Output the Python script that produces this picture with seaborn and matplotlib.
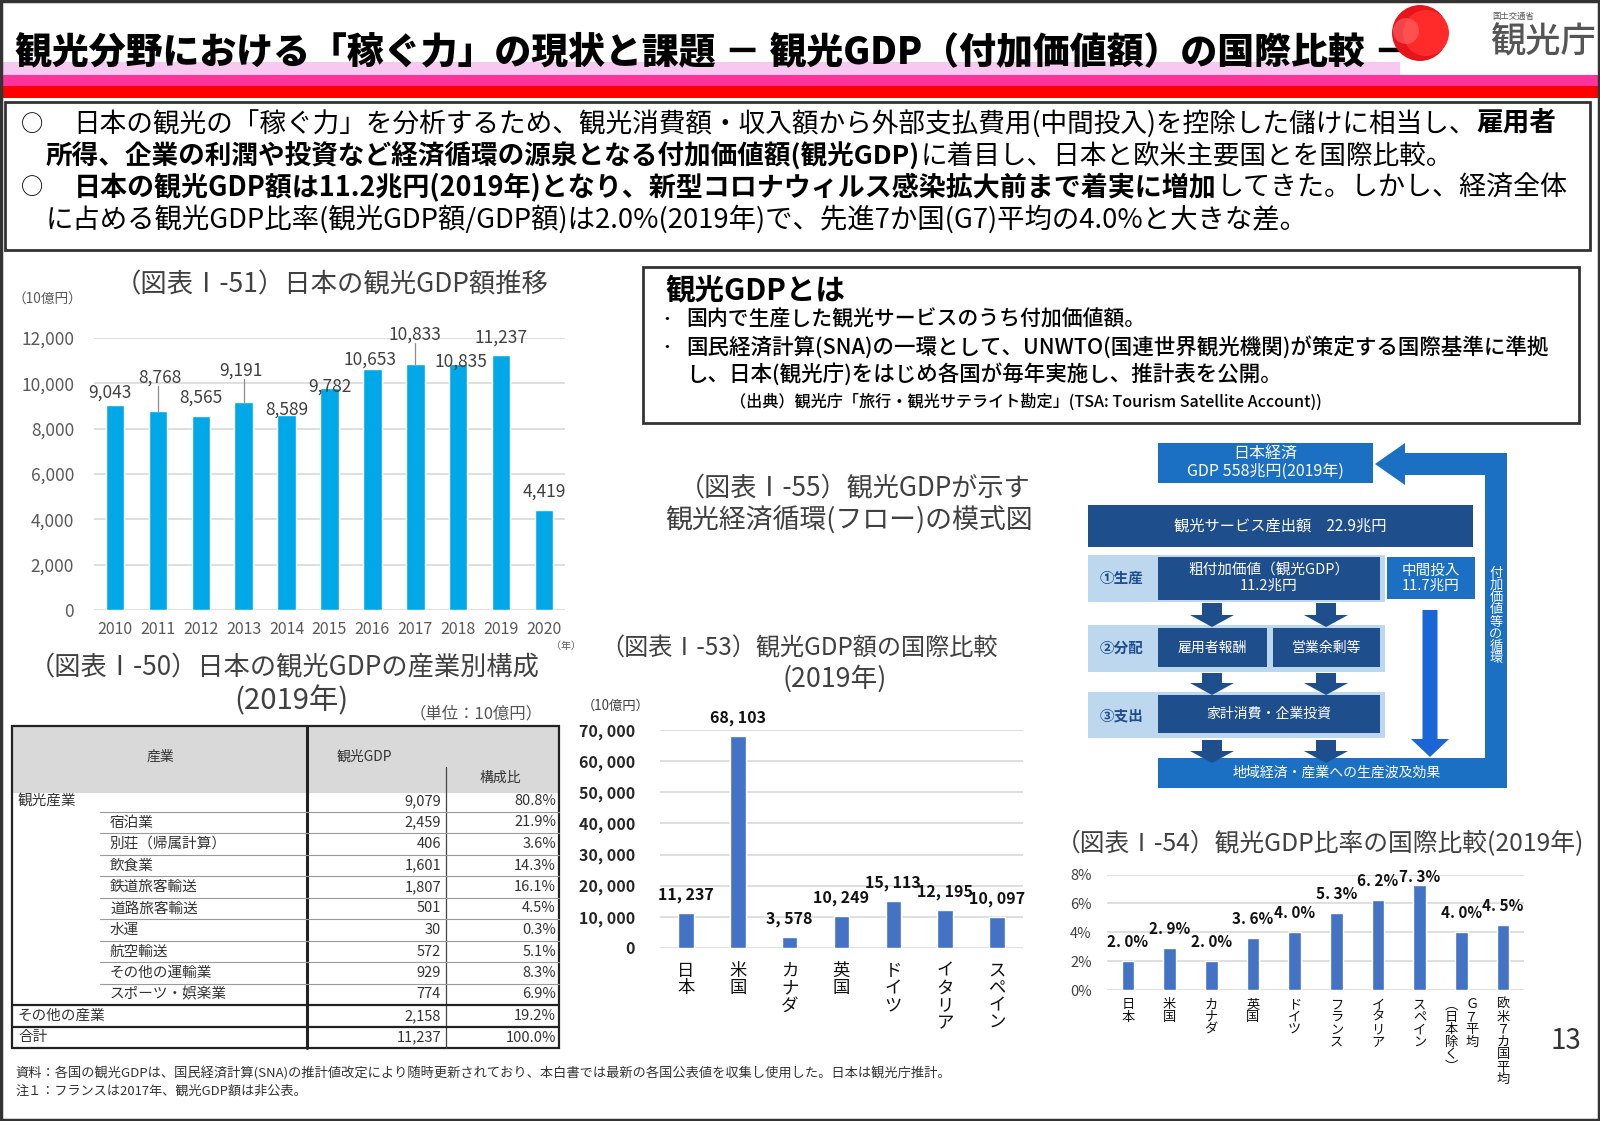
import numpy as np
import pandas as pd
import matplotlib
matplotlib.use("Agg")
import matplotlib.pyplot as plt
from matplotlib.patches import Rectangle, Polygon, Circle
import seaborn as sns

# ---- data ----
years = ["2010", "2011", "2012", "2013", "2014", "2015", "2016", "2017", "2018", "2019", "2020"]
jp_gdp = [9043, 8768, 8565, 9191, 8589, 9782, 10653, 10833, 10835, 11237, 4419]

intl_countries = ["日本", "米国", "カナダ", "英国", "ドイツ", "イタリア", "スペイン"]
intl_gdp = [11237, 68103, 3578, 10249, 15113, 12195, 10097]

ratio_countries = ["日本", "米国", "カナダ", "英国", "ドイツ", "フランス", "イタリア", "スペイン",
                   "Ｇ７平均（日本除く）", "欧米７カ国平均"]
ratio_values = [2.0, 2.9, 2.0, 3.6, 4.0, 5.3, 6.2, 7.3, 4.0, 4.5]

table_industry = ["観光産業", "宿泊業", "別荘（帰属計算）", "飲食業", "鉄道旅客輸送", "道路旅客輸送",
                  "水運", "航空輸送", "その他の運輸業", "スポーツ・娯楽業", "その他の産業", "合計"]
table_gdp = [9079, 2459, 406, 1601, 1807, 501, 30, 572, 929, 774, 2158, 11237]
table_share = [80.8, 21.9, 3.6, 14.3, 16.1, 4.5, 0.3, 5.1, 8.3, 6.9, 19.2, 100.0]

# label placement for the 51 chart (category offset, value offset)
lab_dx = [-0.12, 0.05, 0.0, -0.07, 0.0, 0.0, -0.05, 0.0, 0.07, 0.0, 0.0]
lab_dy = [530, 1485, 790, 1380, 230, 70, 410, 1310, 140, 775, 795]
leaders = [1, 3, 7]

sns.set_theme(style="white")
plt.rcParams["font.family"] = ["Noto Sans CJK JP", "DejaVu Sans"]

W, H = 1600, 1121
fig = plt.figure(figsize=(16, 11.21), dpi=100)
fig.patch.set_facecolor("white")
bg = fig.add_axes([0, 0, 1, 1])
bg.set_xlim(0, W)
bg.set_ylim(H, 0)
bg.axis("off")
renderer = fig.canvas.get_renderer()


def put(x, y, segs, size, width=None, ha="left", color="#000000", **kw):
    """Draw a line of (text, weight) pieces, optionally scaled to a pixel width."""
    if isinstance(segs, str):
        segs = [(segs, "normal")]

    def build(sz):
        objs, cx = [], 0.0
        for s, w in segs:
            t = bg.text(x + cx, y, s, fontsize=sz, fontweight=w, color=color,
                        va="center", ha="left", **kw)
            cx += t.get_window_extent(renderer).width
            objs.append(t)
        return objs, cx

    objs, tw = build(size)
    if width is not None:
        for o in objs:
            o.remove()
        size = size * width / tw
        objs, tw = build(size)
    shift = {"left": 0, "center": tw / 2, "right": tw}[ha]
    for o in objs:
        ox, oy = o.get_position()
        o.set_position((ox - shift, oy))
    return size


def rect(x0, y0, x1, y1, fc="none", ec="none", lw=0, z=1):
    bg.add_patch(Rectangle((x0, y0), x1 - x0, y1 - y0, facecolor=fc, edgecolor=ec,
                           linewidth=lw, zorder=z))


def down_arrow(cx, y0, y1, shaft, head, head_len, fc):
    pts = [(cx - shaft / 2, y0), (cx + shaft / 2, y0), (cx + shaft / 2, y1 - head_len),
           (cx + head / 2, y1 - head_len), (cx, y1), (cx - head / 2, y1 - head_len),
           (cx - shaft / 2, y1 - head_len)]
    bg.add_patch(Polygon(pts, closed=True, facecolor=fc, edgecolor="none", zorder=3))


def panel(x0, y0, x1, y1):
    ax = fig.add_axes([x0 / W, 1 - y1 / H, (x1 - x0) / W, (y1 - y0) / H])
    ax.set_facecolor("none")
    return ax


def style(ax, ymax, step, fmt, pad, fs, color="#595959", weight="normal"):
    ax.set_ylim(0, ymax)
    ticks = np.arange(0, ymax + step / 2, step)
    ax.set_yticks(ticks)
    ax.set_yticklabels([fmt(v) for v in ticks], fontsize=fs, color=color, fontweight=weight)
    ax.grid(axis="y", color="#d9d9d9", lw=1.2)
    ax.grid(axis="x", visible=False)
    ax.set_axisbelow(True)
    for s in ax.spines.values():
        s.set_visible(False)
    ax.tick_params(length=0, axis="y", pad=pad)
    ax.set_xlabel("")
    ax.set_ylabel("")


# ---- frame, header ----
rect(1, 1, W - 1, H - 1, ec="#333333", lw=2.5, z=10)
rect(0, 62, 1400, 75, fc="#f7c9f0", z=0)
rect(0, 75, W, 86, fc="#ff3399", z=0)
rect(0, 86, W, 98, fc="#ff0000", z=0)
put(15, 53, [("観光分野における「稼ぐ力」の現状と課題 － 観光GDP（付加価値額）の国際比較 －", "heavy")],
    24, width=1398)
bg.add_patch(Circle((1420, 33), 28, facecolor="#e8141c", edgecolor="none", zorder=5))
bg.add_patch(Circle((1426, 33), 23, facecolor="#ff2a2a", edgecolor="none", zorder=5))
bg.add_patch(Circle((1406, 31), 13, facecolor="#ff8080", edgecolor="none", zorder=5, alpha=0.45))
put(1492, 16, "国土交通省", 7, width=42, color="#555555")
put(1490, 42, [("観光庁", "medium")], 24, width=106, color="#555555")

# ---- summary box ----
rect(5, 102, 1590, 250, ec="#333333", lw=2, z=2)
put(32, 124.5, "○", 16, ha="center")
put(32, 188, "○", 16, ha="center")
put(73.5, 124.5, [("日本の観光の「稼ぐ力」を分析するため、観光消費額・収入額から外部支払費用(中間投入)を控除した儲けに相当し、", "normal"),
                  ("雇用者", "bold")], 16, width=1485)
put(46, 156, [("所得、企業の利潤や投資など経済循環の源泉となる付加価値額(観光GDP)", "bold"),
              ("に着目し、日本と欧米主要国とを国際比較。", "normal")], 16, width=1408)
put(73.5, 188, [("日本の観光GDP額は11.2兆円(2019年)となり、新型コロナウィルス感染拡大前まで着実に増加", "bold"),
                ("してきた。しかし、経済全体", "normal")], 16, width=1497)
put(46, 219.5, "に占める観光GDP比率(観光GDP額/GDP額)は2.0%(2019年)で、先進7か国(G7)平均の4.0%と大きな差。",
    16, width=1265)

# ---- 51: Japan tourism GDP trend ----
put(115, 285, "（図表Ⅰ-51）日本の観光GDP額推移", 18, width=434, color="#404040")
put(13, 300, "（10億円）", 9, width=70, color="#595959")
put(551, 646, "（年）", 10, width=30, color="#595959")
ax1 = panel(93.5, 338, 565.5, 610)
sns.barplot(x=years, y=jp_gdp, color="#00a8e8", width=0.43, saturation=1, ax=ax1)
style(ax1, 12000, 2000, lambda v: f"{int(v):,}", 14, 12.5)
ax1.set_xlim(-0.5, len(years) - 0.5)
ax1.tick_params(axis="x", length=0, pad=8, labelsize=11.5, labelcolor="#595959")
for i, v in enumerate(jp_gdp):
    ax1.text(i + lab_dx[i], v + lab_dy[i], f"{v:,}", ha="center", va="center",
             fontsize=12.5, color="#404040", clip_on=False, zorder=4)
for i in leaders:
    ax1.plot([i, i], [jp_gdp[i], jp_gdp[i] + lab_dy[i] - 380], color="#8c8c8c",
             lw=0.9, clip_on=False, zorder=4)

# ---- 50: industry table ----
put(29, 668, "（図表Ⅰ-50）日本の観光GDPの産業別構成", 18, width=510, color="#404040")
put(291, 701, "(2019年)", 18, width=114, ha="center", color="#404040")
put(410, 714, "（単位：10億円）", 8, width=133, color="#555555")
tx0, tx1, ty0, ty1 = 12, 559, 725.5, 1048
rect(tx0, ty0, tx1, 793, fc="#d9d9d9", z=1)
rect(tx0, ty0, tx1, ty1, ec="#222222", lw=1.6, z=3)
bg.plot([307, 307], [ty0, ty1], color="#222222", lw=2.2, zorder=3)
bg.plot([446, 446], [767, ty1], color="#444444", lw=0.9, zorder=3)
put(160, 757, "産業", 10, ha="center", color="#333333")
put(337, 757, "観光GDP", 10, color="#333333")
put(500, 777.5, "構成比", 10, ha="center", color="#333333")
row_y = [801 + 21.5 * k for k in range(len(table_industry))]
for k, name in enumerate(table_industry):
    y = row_y[k]
    indent = 0 < k < 10
    put(110 if indent else 18, y, name, 10.5, color="#333333")
    put(441, y, f"{table_gdp[k]:,}", 10.5, ha="right", color="#333333")
    put(556, y, f"{table_share[k]:.1f}%", 10.5, ha="right", color="#333333")
    if k < 9:
        bg.plot([100, tx1], [y + 10.75, y + 10.75], color="#9a9a9a", lw=0.8, zorder=3)
for yl in (row_y[10] - 10.75, row_y[11] - 10.75):
    bg.plot([tx0, tx1], [yl, yl], color="#222222", lw=1.6, zorder=3)

# ---- "観光GDPとは" box ----
rect(643, 267, 1579, 423, ec="#333333", lw=2, z=2)
put(665, 290, [("観光GDPとは", "bold")], 20, width=180)
put(667, 320, "・", 12, ha="center")
put(667, 347, "・", 12, ha="center")
put(686, 320, [("国内で生産した観光サービスのうち付加価値額。", "medium")], 13, width=457)
bsz = put(686, 347, [("国民経済計算(SNA)の一環として、UNWTO(国連世界観光機関)が策定する国際基準に準拠", "medium")],
          13, width=860)
put(686, 374, [("し、日本(観光庁)をはじめ各国が毎年実施し、推計表を公開。", "medium")], bsz)
put(730, 402, [("（出典）観光庁「旅行・観光サテライト勘定」(TSA: Tourism Satellite Account))", "medium")],
    10, width=594)

# ---- 55: flow diagram ----
put(679, 488, "（図表Ⅰ-55）観光GDPが示す", 18, width=352, color="#404040")
put(665, 520, "観光経済循環(フロー)の模式図", 18, width=368, color="#404040")
navy, mid, light, bright = "#1f4e8d", "#1b70c4", "#bdd7ee", "#1a66d6"
rect(1158, 443, 1373, 483, fc=mid)
bg.add_patch(Polygon([(1375, 464), (1405, 443), (1405, 485)], closed=True, facecolor=mid,
                     edgecolor="none", zorder=2))
rect(1404, 453, 1507, 475, fc=mid)
rect(1485, 453, 1507, 788, fc=mid)
rect(1158, 758, 1507, 788, fc=mid)
rect(1088, 505, 1473, 547, fc=navy)
for ry0, ry1 in ((555, 602), (625, 672), (692, 738)):
    rect(1088, ry0, 1385, ry1, fc=light)
rect(1158, 557, 1380, 600, fc=navy, z=2)
rect(1387, 557, 1475, 599, fc=mid, z=2)
rect(1158, 628, 1267, 667, fc=navy, z=2)
rect(1273, 628, 1380, 667, fc=navy, z=2)
rect(1158, 695, 1380, 733, fc=navy, z=2)
for ay0, ay1 in ((603, 627), (673, 695), (740, 763)):
    for cx in (1212, 1326):
        down_arrow(cx, ay0, ay1, 20, 44, 12, navy)
down_arrow(1430, 610, 757, 15, 38, 18, bright)
bg.text(1265, 463, "日本経済\nGDP 558兆円(2019年)", fontsize=11.5, color="white", ha="center",
        va="center", linespacing=1.05, zorder=6)
put(1280, 526, "観光サービス産出額　22.9兆円", 11, width=212, ha="center", color="white")
bg.text(1269, 578, "粗付加価値（観光GDP）\n11.2兆円", fontsize=10.5, color="white", ha="center",
        va="center", linespacing=1.05, zorder=6)
bg.text(1431, 578, "中間投入\n11.7兆円", fontsize=10.5, color="white", ha="center",
        va="center", linespacing=1.05, zorder=6)
for lab, yy in (("①生産", 578), ("②分配", 648), ("③支出", 715)):
    put(1122, yy, [(lab, "bold")], 10.5, ha="center", color=navy)
put(1212, 648, "雇用者報酬", 10, ha="center", color="white")
put(1326, 648, "営業余剰等", 10, ha="center", color="white")
put(1269, 714, "家計消費・企業投資", 10, ha="center", color="white")
put(1337, 773, "地域経済・産業への生産波及効果", 10, ha="center", color="white")
bg.text(1496, 616, "\n".join("付加価値等の循環"), fontsize=9.5, color="white", ha="center",
        va="center", linespacing=0.92, zorder=6)

# ---- 53: international comparison of amounts ----
put(600, 648, "（図表Ⅰ-53）観光GDP額の国際比較", 18, width=398, color="#404040")
put(835, 679, "(2019年)", 18, width=104, ha="center", color="#404040")
put(582, 706, "（10億円）", 9, width=68, color="#404040")
ax3 = panel(660, 730, 1023, 948)
sns.barplot(x=intl_countries, y=intl_gdp, color="#4472c4", width=0.3, saturation=1, ax=ax3)
style(ax3, 70000, 10000, lambda v: f"{int(v):,}".replace(",", ", "), 18, 11.5,
      color="#262626", weight="bold")
ax3.set_xlim(-0.5, len(intl_countries) - 0.5)
ax3.set_xticks(range(len(intl_countries)))
ax3.set_xticklabels([])
ax3.tick_params(axis="x", length=0)
for i, v in enumerate(intl_gdp):
    ax3.annotate(f"{v:,}".replace(",", ", "), (i, v), xytext=(0, 7), textcoords="offset points",
                 ha="center", va="bottom", fontsize=11.5, fontweight="bold", color="#111111",
                 annotation_clip=False)
    ax3.annotate("\n".join(intl_countries[i]), (i, 0), xytext=(0, -10), textcoords="offset points",
                 ha="center", va="top", fontsize=12.5, color="#111111", linespacing=0.95,
                 annotation_clip=False)

# ---- 54: international comparison of ratios ----
put(1056, 844, "（図表Ⅰ-54）観光GDP比率の国際比較(2019年)", 18, width=528, color="#404040")
ax4 = panel(1107, 874.5, 1524, 990)
sns.barplot(x=ratio_countries, y=ratio_values, color="#4472c4", width=0.3, saturation=1, ax=ax4)
style(ax4, 8, 2, lambda v: f"{int(v)}%", 11, 10.5, color="#404040")
ax4.set_xlim(-0.5, len(ratio_countries) - 0.5)
ax4.set_xticks(range(len(ratio_countries)))
ax4.set_xticklabels([])
ax4.tick_params(axis="x", length=0)
for i, v in enumerate(ratio_values):
    # the tallest label is held just under the top of the plot, as on the slide
    ax4.annotate(f"{v:.1f}".replace(".", ". ") + "%", (i, min(v, 6.5)), xytext=(0, 8),
                 textcoords="offset points", ha="center", va="bottom", fontsize=11,
                 fontweight="bold", color="#111111", annotation_clip=False, zorder=5)
    name = ratio_countries[i]
    if "（" in name:
        main, sub = name.split("（")
        cols = [(main, 7.5), ("︵" + sub.rstrip("）") + "︶", -7.5)]
    else:
        cols = [(name, 0)]
    for txt, dx in cols:
        ax4.annotate("\n".join(txt), (i, 0), xytext=(dx, -6), textcoords="offset points",
                     ha="center", va="top", fontsize=9.5, color="#111111", linespacing=0.95,
                     annotation_clip=False)

put(1566, 1041, "13", 20, ha="center", color="#333333")

# ---- footnotes ----
put(15, 1073.5, "資料：各国の観光GDPは、国民経済計算(SNA)の推計値改定により随時更新されており、本白書では最新の各国公表値を収集し使用した。日本は観光庁推計。",
    9, width=934, color="#333333")
put(15, 1091, "注１：フランスは2017年、観光GDP額は非公表。", 9, width=291, color="#333333")

fig.savefig("out.png", dpi=100, facecolor="white")
